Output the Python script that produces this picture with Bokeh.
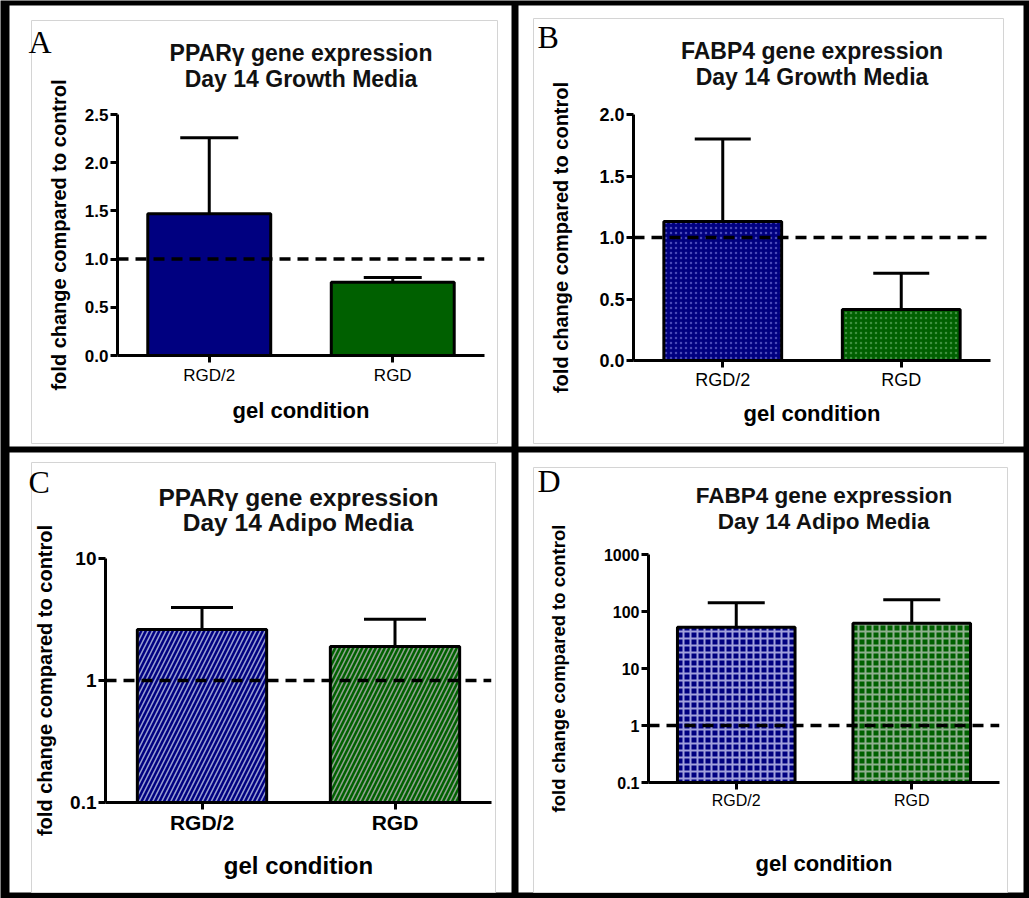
import math
from bokeh.plotting import figure
from bokeh.models import (FactorRange, Range1d, ColumnDataSource, Whisker, TeeHead, Span,
                          Label, FixedTicker, NumeralTickFormatter)
from bokeh.embed import file_html
from bokeh.resources import INLINE

# ---------------- data ----------------
categories = ["RGD/2", "RGD"]
control_level = 1.0
x_axis_title = "gel condition"
y_axis_title = "fold change compared to control"

a_letter = "A"
a_title = ["PPARγ gene expression", "Day 14 Growth Media"]
a_mean = [1.47, 0.76]
a_upper = [2.26, 0.81]
a_yticks = [0.0, 0.5, 1.0, 1.5, 2.0, 2.5]

b_letter = "B"
b_title = ["FABP4 gene expression", "Day 14 Growth Media"]
b_mean = [1.13, 0.415]
b_upper = [1.80, 0.71]
b_yticks = [0.0, 0.5, 1.0, 1.5, 2.0]

c_letter = "C"
c_title = ["PPARγ gene expression", "Day 14 Adipo Media"]
c_mean = [2.62, 1.90]
c_upper = [3.97, 3.17]
c_yticks = [0.1, 1, 10]

d_letter = "D"
d_title = ["FABP4 gene expression", "Day 14 Adipo Media"]
d_mean = [53, 62]
d_upper = [143, 160]
d_yticks = [0.1, 1, 10, 100, 1000]

# ---------------- styling / layout ----------------
BLUE = "#000080"
GREEN = "#006000"
SANS = "Liberation Sans"
SERIF = "Liberation Serif"
PAGE_W, PAGE_H = 1029, 898


def make_chart(mean, upper, yticks, log, cfg):
    x0, y0, w, h = cfg["panel"]
    fl, fr, ft, fb = cfg["frame"]
    ylo, yhi = yticks[0], yticks[-1]
    p = figure(width=w, height=h,
               x_range=FactorRange(*categories, range_padding=0),
               y_range=Range1d(ylo, yhi),
               y_axis_type="log" if log else "linear",
               output_backend="svg", toolbar_location=None,
               min_border_left=fl - x0, min_border_right=x0 + w - fr,
               min_border_top=ft - y0, min_border_bottom=y0 + h - fb)
    p.styles = {"position": "absolute", "left": f"{x0}px", "top": f"{y0}px"}
    p.xgrid.visible = False
    p.ygrid.visible = False
    p.outline_line_color = None
    p.background_fill_color = None
    p.border_fill_color = None

    src = ColumnDataSource(dict(cat=categories, mean=mean, upper=upper,
                                fill=[BLUE, GREEN], hatch=cfg["hatch_colors"]))
    kw = {}
    if cfg.get("hatch"):
        kw = dict(hatch_pattern=cfg["hatch"], hatch_color="hatch",
                  hatch_scale=cfg["hatch_scale"], hatch_weight=cfg["hatch_weight"])
    p.vbar(x="cat", top="mean", bottom=ylo, width=cfg["bar_w"], source=src,
           fill_color="fill", line_color="black", line_width=3, **kw)

    p.add_layout(Whisker(source=src, base="cat", lower="mean", upper="upper",
                         line_width=3, line_color="black",
                         upper_head=TeeHead(size=cfg["cap"], line_width=3, line_color="black"),
                         lower_head=None))
    p.add_layout(Span(location=control_level, dimension="width", line_color="black",
                      line_width=3.5, line_dash="11 7"))

    xa, ya = p.xaxis[0], p.yaxis[0]
    ya.ticker = FixedTicker(ticks=yticks)
    ya.formatter = NumeralTickFormatter(format="0.[0]" if log else "0.0")
    for ax in (xa, ya):
        ax.axis_line_width = 3
        ax.axis_line_color = "black"
        ax.major_tick_line_width = 3
        ax.major_tick_line_color = "black"
        ax.major_tick_out = 7
        ax.major_tick_in = 0
        ax.minor_tick_out = 0
        ax.minor_tick_in = 0
        ax.major_label_text_font = SANS
        ax.major_label_text_color = "black"
        ax.axis_label_text_font = SANS
        ax.axis_label_text_font_style = "bold"
        ax.axis_label_text_color = "black"
    ya.major_label_text_font_size = f"{cfg['ytick_fs']}px"
    ya.major_label_text_font_style = "bold"
    ya.major_label_standoff = 2
    ya.axis_label = y_axis_title
    ya.axis_label_text_font_size = f"{cfg['ylab_fs']}px"
    ya.axis_label_standoff = cfg["ylab_so"]
    xa.major_label_text_font_size = f"{cfg['xtick_fs']}px"
    xa.major_label_text_font_style = cfg["xtick_style"]
    xa.major_label_standoff = cfg["xtick_so"]
    xa.axis_label = x_axis_title
    xa.axis_label_text_font_size = f"{cfg['xlab_fs']}px"
    xa.axis_label_standoff = cfg["xlab_so"]
    return p


cfg_a = dict(panel=(9, 5, 502, 441), frame=(117, 484, 114, 355), box=(31, 20, 497, 443),
             bar_w=0.67, cap=58, hatch=None, hatch_colors=[BLUE, GREEN],
             ytick_fs=17, ylab_fs=20, ylab_so=12, xtick_fs=17, xtick_style="normal",
             xtick_so=3, xlab_fs=22, xlab_so=10, title_fs=23, title_y=(52, 78),
             letter_xy=(28, 41))
cfg_b = dict(panel=(518, 5, 505, 441), frame=(633, 990, 114, 360), box=(533, 18, 1003, 443),
             bar_w=0.66, cap=56, hatch="dot", hatch_colors=["#4848b8", "#3f9040"],
             hatch_scale=5, hatch_weight=1.5,
             ytick_fs=18, ylab_fs=20, ylab_so=24, xtick_fs=18, xtick_style="normal",
             xtick_so=2, xlab_fs=22, xlab_so=8, title_fs=23, title_y=(50, 76),
             letter_xy=(537, 36))
cfg_c = dict(panel=(9, 452, 502, 440), frame=(105, 491, 558, 802), box=(31, 462, 495, 892),
             bar_w=0.67, cap=62, hatch="right_diagonal_line", hatch_colors=["#959cd0", "#90a090"],
             hatch_scale=9, hatch_weight=1.6,
             ytick_fs=19, ylab_fs=20, ylab_so=11, xtick_fs=21, xtick_style="bold",
             xtick_so=1, xlab_fs=24, xlab_so=15, title_fs=24.5, title_y=(497, 522),
             letter_xy=(28, 481))
cfg_d = dict(panel=(518, 452, 505, 440), frame=(648, 999, 554, 782), box=(533, 467, 1007, 892),
             bar_w=0.67, cap=57, hatch="cross", hatch_colors=["#a0a0dc", "#8fb08f"],
             hatch_scale=7, hatch_weight=2,
             ytick_fs=16, ylab_fs=18.5, ylab_so=32, xtick_fs=16, xtick_style="normal",
             xtick_so=2, xlab_fs=22, xlab_so=39, title_fs=22.5, title_y=(495, 521),
             letter_xy=(537, 480))

panels = [
    (a_letter, a_title, a_mean, a_upper, a_yticks, False, cfg_a),
    (b_letter, b_title, b_mean, b_upper, b_yticks, False, cfg_b),
    (c_letter, c_title, c_mean, c_upper, c_yticks, True, cfg_c),
    (d_letter, d_title, d_mean, d_upper, d_yticks, True, cfg_d),
]

# background page: black frame, white panels, faint inner boxes, titles and letters
bg = figure(width=PAGE_W, height=PAGE_H, x_range=Range1d(0, PAGE_W), y_range=Range1d(PAGE_H, 0),
            output_backend="svg", toolbar_location=None, min_border=0,
            x_axis_location=None, y_axis_location=None,
            background_fill_color="black", border_fill_color="black")
bg.styles = {"position": "absolute", "left": "0px", "top": "0px"}
bg.grid.visible = False
bg.outline_line_color = None

px0 = [c[6]["panel"][0] for c in panels]
py0 = [c[6]["panel"][1] for c in panels]
pw = [c[6]["panel"][2] for c in panels]
ph = [c[6]["panel"][3] for c in panels]
bg.quad(left=px0, right=[a + b for a, b in zip(px0, pw)], top=py0,
        bottom=[a + b for a, b in zip(py0, ph)], fill_color="white", line_color=None)
bg.quad(left=[c[6]["box"][0] for c in panels], right=[c[6]["box"][2] for c in panels],
        top=[c[6]["box"][1] for c in panels], bottom=[c[6]["box"][3] for c in panels],
        fill_color=None, line_color="#d4d4d4", line_width=1)

charts = []
for letter, title_lines, mean, upper, yticks, log, cfg in panels:
    fl, fr, ft, fb = cfg["frame"]
    for line, ty in zip(title_lines, cfg["title_y"]):
        bg.add_layout(Label(x=(fl + fr) / 2, y=ty, text=line, text_align="center",
                            text_baseline="middle", text_font=SANS, text_font_style="bold",
                            text_font_size=f"{cfg['title_fs']}px", text_color="#111111"))
    bg.add_layout(Label(x=cfg["letter_xy"][0], y=cfg["letter_xy"][1], text=letter,
                        text_align="left", text_baseline="middle", text_font=SERIF,
                        text_font_size="32px", text_color="black"))
    charts.append(make_chart(mean, upper, yticks, log, cfg))

open("out.html", "w").write(file_html([bg] + charts, INLINE))
